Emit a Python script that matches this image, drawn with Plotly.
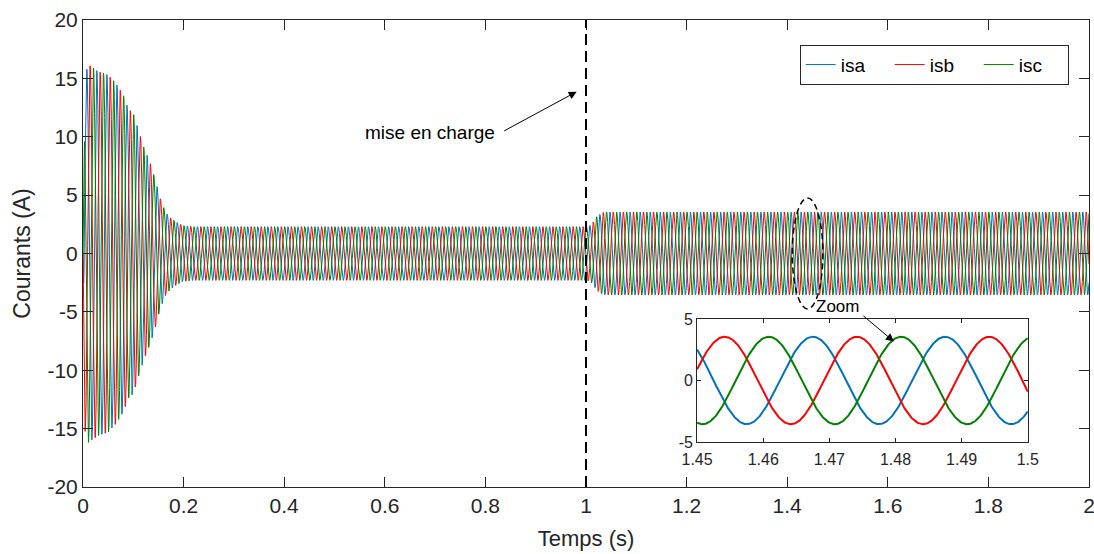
import numpy as np
import plotly.graph_objects as go

# ---------------- data ----------------
series_names = ["isa", "isb", "isc"]
series_colors = ["#0072BD", "#FF0000", "#008000"]
phase_lag_deg = [0, 120, 240]          # a-b-c sequence (from inset)
freq_hz = 50.0                          # period 0.02 s read in the inset
isa_peak_time = 1.4675                  # isa positive peak read in the inset (s)

# peak amplitude (A) of the currents, read at these instants (s)
envelope_t = [0.0, 0.0015, 0.004, 0.01, 0.03, 0.05, 0.065, 0.08, 0.09, 0.10,
              0.11, 0.12, 0.134, 0.144, 0.153, 0.16, 0.165, 0.174, 0.184,
              0.198, 0.22, 1.0, 1.006, 1.012, 1.021, 1.031, 1.038, 2.0]
envelope_a = [0.0, 8.0, 15.2, 16.2, 15.6, 15.3, 14.6, 13.6, 12.4, 12.0,
              10.6, 9.2, 7.7, 6.3, 4.8, 4.0, 3.5, 3.05, 2.74,
              2.4, 2.3, 2.3, 2.35, 2.55, 3.15, 3.45, 3.55, 3.55]

load_time = 1.0                          # "mise en charge"
zoom_range = [1.45, 1.5]

x_tickvals = [0, 0.2, 0.4, 0.6, 0.8, 1.0, 1.2, 1.4, 1.6, 1.8, 2.0]
x_ticktext = ["0", "0.2", "0.4", "0.6", "0.8", "1", "1.2", "1.4", "1.6", "1.8", "2"]
y_tickvals = [-20, -15, -10, -5, 0, 5, 10, 15, 20]
y_ticktext = ["-20", "-15", "-10", "-5", "0", "5", "10", "15", "20"]
x2_tickvals = [1.45, 1.46, 1.47, 1.48, 1.49, 1.5]
x2_ticktext = ["1.45", "1.46", "1.47", "1.48", "1.49", "1.5"]
y2_tickvals = [-5, 0, 5]
y2_ticktext = ["-5", "0", "5"]

# ---------------- build signals ----------------
t = np.linspace(0.0, 2.0, 20001)
env = np.interp(t, envelope_t, envelope_a)
signals = [env * np.cos(2 * np.pi * freq_hz * (t - isa_peak_time) - np.deg2rad(lag))
           for lag in phase_lag_deg]

FONT = "Liberation Sans, Arial, Helvetica, sans-serif"
TXT = "#262626"

fig = go.Figure()
for name, color, y in zip(series_names, series_colors, signals):
    fig.add_trace(go.Scatter(x=t, y=y, mode="lines", name=name,
                             line=dict(color=color, width=1),
                             xaxis="x", yaxis="y"))

mask = (t >= zoom_range[0] - 1e-9) & (t <= zoom_range[1] + 1e-9)
for name, color, y in zip(series_names, series_colors, signals):
    fig.add_trace(go.Scatter(x=t[mask], y=y[mask], mode="lines", name=name,
                             line=dict(color=color, width=2),
                             xaxis="x2", yaxis="y2", showlegend=False))

axis_common = dict(showline=True, linecolor=TXT, linewidth=1, mirror="ticks",
                   ticks="inside", tickcolor=TXT, showgrid=False, zeroline=False,
                   automargin=False)

fig.update_layout(
    width=1094, height=554,
    margin=dict(l=83, r=5, t=20, b=67, autoexpand=False),
    paper_bgcolor="white", plot_bgcolor="white",
    font=dict(family=FONT, color=TXT, size=21),
    xaxis=dict(range=[0, 2], domain=[0, 1], tickvals=x_tickvals, ticktext=x_ticktext,
               ticklen=10, tickfont=dict(size=21), ticklabeloverflow="allow",
               title=dict(text="Temps (s)", font=dict(size=22), standoff=14),
               **axis_common),
    yaxis=dict(range=[-20, 20], domain=[0, 1], tickvals=y_tickvals, ticktext=y_ticktext,
               ticklen=10, tickfont=dict(size=21), ticklabeloverflow="allow",
               title=dict(text="Courants (A)", font=dict(size=23), standoff=10),
               **axis_common),
    xaxis2=dict(range=zoom_range, domain=[0.6104, 0.9392], anchor="y2",
                tickvals=x2_tickvals, ticktext=x2_ticktext, ticklen=4,
                tickfont=dict(size=16), ticklabelstandoff=3, **axis_common),
    yaxis2=dict(range=[-5, 5], domain=[0.0963, 0.3599], anchor="x2",
                tickvals=y2_tickvals, ticktext=y2_ticktext, ticklen=4,
                tickfont=dict(size=16), **axis_common),
    legend=dict(orientation="h", x=0.9798, xanchor="right", y=0.9471, yanchor="top",
                bordercolor=TXT, borderwidth=1, bgcolor="white",
                font=dict(size=19, color="#000000"), entrywidth=44,
                tracegroupgap=0),
    showlegend=True,
)

fig.add_shape(type="line", xref="x", yref="y", x0=load_time, x1=load_time, y0=-20, y1=20,
              line=dict(color="#000000", width=2, dash="11px,6px"), layer="above")
fig.add_shape(type="circle", xref="x", yref="y", x0=1.410, x1=1.471, y0=-4.75, y1=4.75,
              line=dict(color="#000000", width=1.5, dash="6px,4px"), layer="above")

fig.add_annotation(x=0.9815, y=13.86, xref="x", yref="y", ax=-74, ay=40,
                   showarrow=True, arrowhead=2, arrowsize=1.6, arrowwidth=1,
                   arrowcolor="#000000", text="")
fig.add_annotation(x=0.6894, y=10.35, xref="x", yref="y", text="mise en charge",
                   showarrow=False, font=dict(size=19, color="#000000"))
fig.add_annotation(x=1.612, y=-7.54, xref="x", yref="y", ax=-32, ay=-27,
                   showarrow=True, arrowhead=2, arrowsize=1.6, arrowwidth=1,
                   arrowcolor="#000000", text="")
fig.add_annotation(x=1.5007, y=-4.54, xref="x", yref="y", text="Zoom",
                   showarrow=False, font=dict(size=17, color="#000000"))

# remove the browser's default 8 px page margin so the figure fills the window
fig.write_html("out.html", config={"displayModeBar": False},
               post_script="document.body.style.margin='0px';")
